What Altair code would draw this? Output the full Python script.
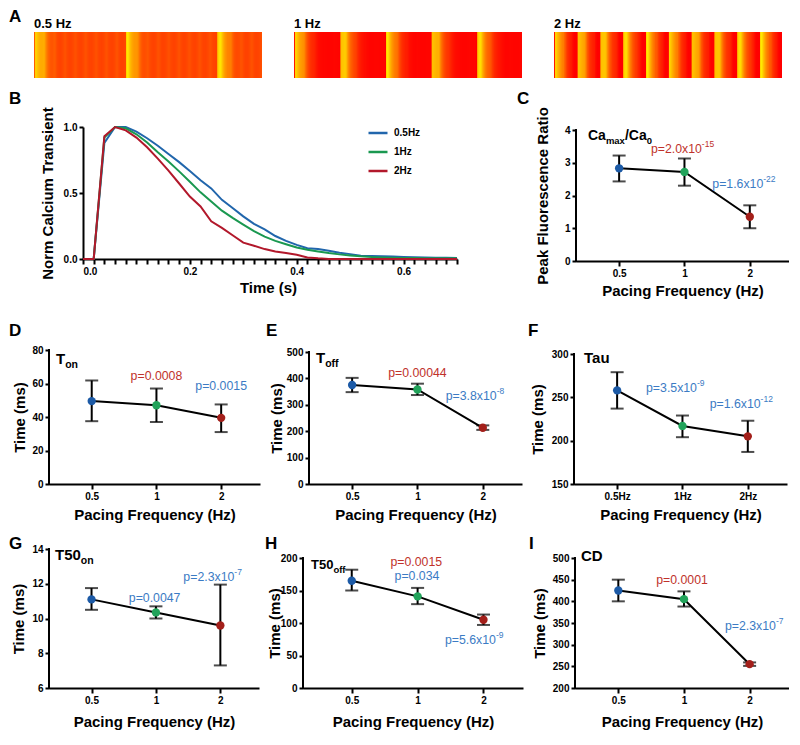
import altair as alt
import pandas as pd

FONT = "Liberation Sans"

# ---------------- data ----------------
freq_names = ["0.5Hz", "1Hz", "2Hz"]
freq_ticks = ["0.5", "1", "2"]
freq_ticks_hz = ["0.5Hz", "1Hz", "2Hz"]
periods_s = [2.0, 1.0, 0.5]
strip_titles = ["0.5 Hz", "1 Hz", "2 Hz"]
strip_rest_level = [0.18, 0.0, 0.0]
strip_duration_s = 5.0

time_s = [round(0.02 * i, 2) for i in range(36)]
ca_05hz = [0, 0, 0.88, 1.0, 1.0, 0.965, 0.915, 0.858, 0.796, 0.734, 0.667, 0.597,
           0.535, 0.448, 0.386, 0.323, 0.266, 0.224, 0.174, 0.137, 0.107, 0.082,
           0.075, 0.062, 0.047, 0.037, 0.025, 0.022, 0.02, 0.018, 0.015, 0.013,
           0.011, 0.01, 0.009, 0.008]
ca_1hz = [0, 0, 0.92, 1.0, 0.99, 0.945, 0.883, 0.808, 0.739, 0.664, 0.585, 0.505,
          0.435, 0.366, 0.311, 0.261, 0.211, 0.169, 0.137, 0.112, 0.087, 0.07,
          0.057, 0.045, 0.035, 0.027, 0.02, 0.015, 0.012, 0.01, 0.008, 0.007,
          0.006, 0.005, 0.005, 0.005]
ca_2hz = [0, 0, 0.93, 1.0, 0.975, 0.92, 0.846, 0.76, 0.67, 0.572, 0.473, 0.398,
          0.286, 0.236, 0.18, 0.124, 0.1, 0.075, 0.057, 0.045, 0.032, 0.012,
          0.005, 0, 0, 0, 0, 0, 0, 0, 0, 0, 0, 0, 0, 0]

c_mean = [2.83, 2.72, 1.35]; c_lo = [2.43, 2.30, 1.00]; c_hi = [3.22, 3.13, 1.70]
d_mean = [49.5, 47, 39.5]; d_lo = [37.5, 37, 31]; d_hi = [61.8, 57, 47.5]
e_mean = [375, 358, 213]; e_lo = [348, 337, 205]; e_hi = [402, 380, 222]
f_mean = [258, 217, 205]; f_lo = [237, 204, 187]; f_hi = [279, 229, 223]
g_mean = [11.1, 10.35, 9.6]; g_lo = [10.5, 10.0, 7.3]; g_hi = [11.75, 10.7, 11.95]
h_mean = [165, 141, 105]; h_lo = [150, 129, 97]; h_hi = [182, 154, 113]
i_mean = [425, 405, 255]; i_lo = [400, 388, 251]; i_hi = [450, 423, 259]

# p-value annotations: (text, superscript, x index, y value, colour key)
c_p = [("p=2.0x10", "-15", 0.97, 3.43, "r"), ("p=1.6x10", "-22", 1.91, 2.36, "b")]
d_p = [("p=0.0008", "", 1.0, 64.2, "r"), ("p=0.0015", "", 2.0, 58.4, "b")]
e_p = [("p=0.00044", "", 1.0, 422, "r"), ("p=3.8x10", "-8", 1.88, 333, "b")]
f_p = [("p=3.5x10", "-9", 0.89, 261, "b"), ("p=1.6x10", "-12", 1.9, 242, "b")]
g_p = [("p=0.0047", "", 0.98, 11.19, "b"), ("p=2.3x10", "-7", 1.88, 12.4, "b")]
h_p = [("p=0.0015", "", 0.98, 194, "r"), ("p=0.034", "", 0.99, 172, "b"),
       ("p=5.6x10", "-9", 1.86, 74, "b")]
i_p = [("p=0.0001", "", 0.97, 449, "r"), ("p=2.3x10", "-7", 2.07, 342, "b")]

# ---------------- styles ----------------
line_colors = ["#2166ac", "#1a9850", "#b2182b"]
point_colors = ["#1c5aa6", "#21a35a", "#a31f1a"]
p_colors = {"r": "#c0322b", "b": "#3b7bc4"}
PF, SF = 12.3, 8.5
XDOM = [-0.66, 2.6]

REG = {"p": .556, "=": .584, ".": .278, "x": .5, "-": .333}
BOLD = {"C": .722, "a": .556, "m": .889, "x": .556, "/": .278, "T": .611,
        "o": .611, "n": .611, "f": .333, "u": .611, "D": .722, "-": .333}


def tw(s, size, bold=False):
    tab = BOLD if bold else REG
    return sum(tab.get(ch, .556) for ch in s) * size


def text_layer(s, x, y, size, weight="bold", color="black", align="left",
               baseline="alphabetic", opacity=1.0):
    return alt.Chart(pd.DataFrame({"s": [s]})).mark_text(
        font=FONT, fontSize=size, fontWeight=weight, color=color, align=align,
        baseline=baseline, opacity=opacity
    ).encode(text="s:N", x=alt.value(x), y=alt.value(y))


def rich(pieces, x, y):
    out = []
    cx = x
    for s, size, dy in pieces:
        out.append(text_layer(s, cx, y + dy, size))
        cx += tw(s, size, True)
    return out


def spacer():
    return text_layer("", 0, 0, 1, opacity=0.0).properties(width=1, height=1)


def strip_panel(curve, period, rest, label, letter, Lx, Ly, W, H):
    n = int(round(period / 0.02))
    nb = int(round(strip_duration_s / 0.02))
    df = pd.DataFrame({
        "t0": [round(k * 0.02, 2) for k in range(nb)],
        "t1": [round((k + 1) * 0.02, 2) for k in range(nb)],
        "v": [rest + (1 - rest) * curve[min(k % n + 1, len(curve) - 1)] for k in range(nb)],
    })
    rect = alt.Chart(df).mark_rect().encode(
        x=alt.X("t0:Q", scale=alt.Scale(domain=[0, strip_duration_s], nice=False, zero=False), axis=None),
        x2="t1:Q",
        color=alt.Color("v:Q", scale=alt.Scale(domain=[0, 1], range=["#ff0000", "#ffff00"]), legend=None),
    )
    layers = [rect, text_layer(label, 0, -4, 13)]
    if letter:
        layers.append(text_layer(letter, -Lx, -Ly, 17, baseline="top"))
    return alt.layer(*layers).properties(
        width=W, height=H, view=alt.ViewBackground(fill="#ff0000", stroke=None))


def stat_panel(letter, Lx, Ly, title_pieces, tpos, mean, lo, hi, ymin, ymax, yvals, pad,
               xlabs, ytitle, W, H, ytx, xty, pvals, xdom=XDOM):
    df = pd.DataFrame({"i": [0, 1, 2], "m": mean, "lo": lo, "hi": hi, "col": point_colors})
    xsc = alt.Scale(domain=xdom, nice=False, zero=False)
    xax = alt.Axis(values=[0, 1, 2], labelExpr=f"{xlabs}[datum.value]",
                   title="Pacing Frequency (Hz)", titleX=W / 2, titleY=xty,
                   titleBaseline="middle", titleAlign="center", tickSize=5)
    ytop = ymax + pad * (ymax - ymin) / (H - pad)
    ysc = alt.Scale(domain=[ymin, ytop], nice=False, zero=False)
    yax = alt.Axis(values=yvals, title=ytitle, titleX=ytx, titleY=pad + (H - pad) / 2,
                   titleAngle=270, titleBaseline="middle", titleAlign="center",
                   tickSize=4, domain=False)

    def X(f):
        return alt.X(f"{f}:Q", scale=xsc, axis=xax)

    def Y(f):
        return alt.Y(f"{f}:Q", scale=ysc, axis=yax)

    base = alt.Chart(df)
    axis_df = pd.DataFrame({"x": [xdom[0]], "y0": [ymin], "y1": [ymax]})
    layers = [
        alt.Chart(axis_df).mark_rule(color="black", strokeWidth=2, strokeCap="square").encode(
            x=X("x"), y=Y("y0"), y2="y1:Q"),
        base.mark_rule(color="black", strokeWidth=2).encode(x=X("i"), y=Y("lo"), y2="hi:Q"),
        base.mark_tick(color="black", thickness=2, size=13, orient="horizontal").encode(x=X("i"), y=Y("lo")),
        base.mark_tick(color="black", thickness=2, size=13, orient="horizontal").encode(x=X("i"), y=Y("hi")),
        base.mark_line(color="black", strokeWidth=2).encode(x=X("i"), y=Y("m")),
        base.mark_circle(size=70, opacity=1).encode(x=X("i"), y=Y("m"),
                                                     color=alt.Color("col:N", scale=None)),
    ]
    for main, sup, xi, yv, ck in pvals:
        wm = tw(main, PF)
        ws = tw(sup, SF) if sup else 0
        tot = wm + ws
        pdf = alt.Chart(pd.DataFrame({"i": [xi], "y": [yv], "s": [main], "u": [sup]}))
        layers.append(pdf.mark_text(font=FONT, fontSize=PF, color=p_colors[ck], align="left",
                                    baseline="middle", dx=-tot / 2).encode(x=X("i"), y=Y("y"), text="s:N"))
        if sup:
            layers.append(pdf.mark_text(font=FONT, fontSize=SF, color=p_colors[ck], align="left",
                                        baseline="middle", dx=-tot / 2 + wm, dy=-5).encode(
                x=X("i"), y=Y("y"), text="u:N"))
    layers += rich(title_pieces, tpos[0], tpos[1])
    layers.append(text_layer(letter, -Lx, -Ly, 17, baseline="top"))
    return alt.layer(*layers).properties(width=W, height=H)


def row(panels, spacing):
    inner = alt.concat(*panels, columns=len(panels), spacing=spacing).resolve_scale(color="independent")
    return alt.concat(spacer(), inner, columns=2, spacing=0).resolve_scale(color="independent")


# ---------------- panel A ----------------
curves = [ca_05hz, ca_1hz, ca_2hz]
strips = [strip_panel(curves[k], periods_s[k], strip_rest_level[k], strip_titles[k],
                      "A" if k == 0 else None, 25, 23, 228, 46)
          for k in range(3)]
rowA = row(strips, 32)

# ---------------- panel B ----------------
B_W, B_H = 374, 132
dfB = pd.DataFrame({
    "t": time_s * 3,
    "v": ca_05hz + ca_1hz + ca_2hz,
    "freq": [freq_names[0]] * 36 + [freq_names[1]] * 36 + [freq_names[2]] * 36,
})
b_ticks = [round(0.02 * i, 2) for i in range(36)]
lineB = alt.Chart(dfB).mark_line(strokeWidth=2).encode(
    x=alt.X("t:Q", scale=alt.Scale(domain=[0, 0.7], nice=False, zero=False),
            axis=alt.Axis(values=b_ticks,
                          labelExpr="(round(datum.value*100) % 20 == 0) ? format(datum.value, '.1f') : ''",
                          title="Time (s)", titleX=B_W / 2 - 2, titleY=28, titleBaseline="middle",
                          titleAlign="center", tickSize=5)),
    y=alt.Y("v:Q", scale=alt.Scale(domain=[0, 1], nice=False, zero=False),
            axis=alt.Axis(values=[0, 0.5, 1], format=".1f", title="Norm Calcium Transient",
                          titleX=-36, titleY=B_H / 2, titleAngle=270, titleBaseline="middle",
                          titleAlign="center", tickSize=4)),
    color=alt.Color("freq:N", scale=alt.Scale(domain=freq_names, range=line_colors),
                    legend=alt.Legend(orient="none", legendX=284, legendY=-5, title=None,
                                      symbolType="stroke", symbolStrokeWidth=2.5, symbolSize=361,
                                      rowPadding=3, labelOffset=5, labelFont=FONT,
                                      labelFontSize=10, labelFontWeight="bold", labelColor="black")),
)
panelB = alt.layer(lineB, text_layer("B", -74, -36, 17, baseline="top")).properties(width=B_W, height=B_H)

panelC = stat_panel("C", 59, 36, [("Ca", 14, 0), ("max", 9.5, 4), ("/Ca", 14, 0), ("0", 9.5, 4)], (12, 13),
                    c_mean, c_lo, c_hi, 0, 4, [0, 1, 2, 3, 4], 3, freq_ticks,
                    "Peak Fluorescence Ratio", 213, 134, -34, 29, c_p)
rowBC = row([panelB, panelC], 56)

# ---------------- panels D-F ----------------
panelD = stat_panel("D", 40, 27, [("T", 15, 0), ("on", 10.5, 4)], (7, 14), d_mean, d_lo, d_hi,
                    0, 80, [0, 20, 40, 60, 80], 0, freq_ticks, "Time (ms)", 211, 134, -30, 30, d_p)
panelE = stat_panel("E", 43, 27, [("T", 15, 0), ("off", 10.5, 4)], (7, 13), e_mean, e_lo, e_hi,
                    0, 500, [0, 100, 200, 300, 400, 500], 2, freq_ticks, "Time (ms)", 213, 134, -33, 30, e_p)
panelF = stat_panel("F", 46, 27, [("Tau", 15, 0)], (10, 13), f_mean, f_lo, f_hi,
                    150, 300, [150, 200, 250, 300], 4, freq_ticks_hz, "Time (ms)", 213, 134, -37, 30, f_p)
rowDEF = row([panelD, panelE, panelF], 6)

# ---------------- panels G-I ----------------
panelG = stat_panel("G", 40, 13, [("T50", 15, 0), ("on", 10.5, 4)], (6, 11), g_mean, g_lo, g_hi,
                    6, 14, [6, 8, 10, 12, 14], 0, freq_ticks, "Time (ms)", 210, 139, -31, 33, g_p)
panelH = stat_panel("H", 38, 13, [("T50", 13, 0), ("off", 9.5, 4)], (8, 20), h_mean, h_lo, h_hi,
                    0, 200, [0, 50, 100, 150, 200], 9, freq_ticks, "Time (ms)", 220, 139, -29, 33, h_p,
                    xdom=[-0.74, 2.6])
panelI = stat_panel("I", 46, 13, [("CD", 15, 0)], (6, 12), i_mean, i_lo, i_hi,
                    200, 500, [200, 250, 300, 350, 400, 450, 500], 9, freq_ticks, "Time (ms)",
                    214, 139, -36, 33, i_p)
rowGHI = row([panelG, panelH, panelI], 6)

top = alt.concat(rowA, rowBC, columns=1, spacing=12).resolve_scale(color="independent")
bottom = alt.concat(rowDEF, rowGHI, columns=1, spacing=13).resolve_scale(color="independent")

chart = alt.concat(top, bottom, columns=1, spacing=24).resolve_scale(
    color="independent"
).properties(
    padding={"left": 0, "top": 0, "right": 0, "bottom": 4}, background="white"
).configure_axis(
    domainColor="black", domainWidth=2, tickColor="black", tickWidth=2,
    labelFont=FONT, labelFontSize=10, labelFontWeight="bold", labelColor="black",
    titleFont=FONT, titleFontSize=15, titleFontWeight="bold", titleColor="black",
    grid=False, labelPadding=2,
).configure_view(stroke=None)

chart.save("out.html", embed_options={"renderer": "svg", "actions": False})
